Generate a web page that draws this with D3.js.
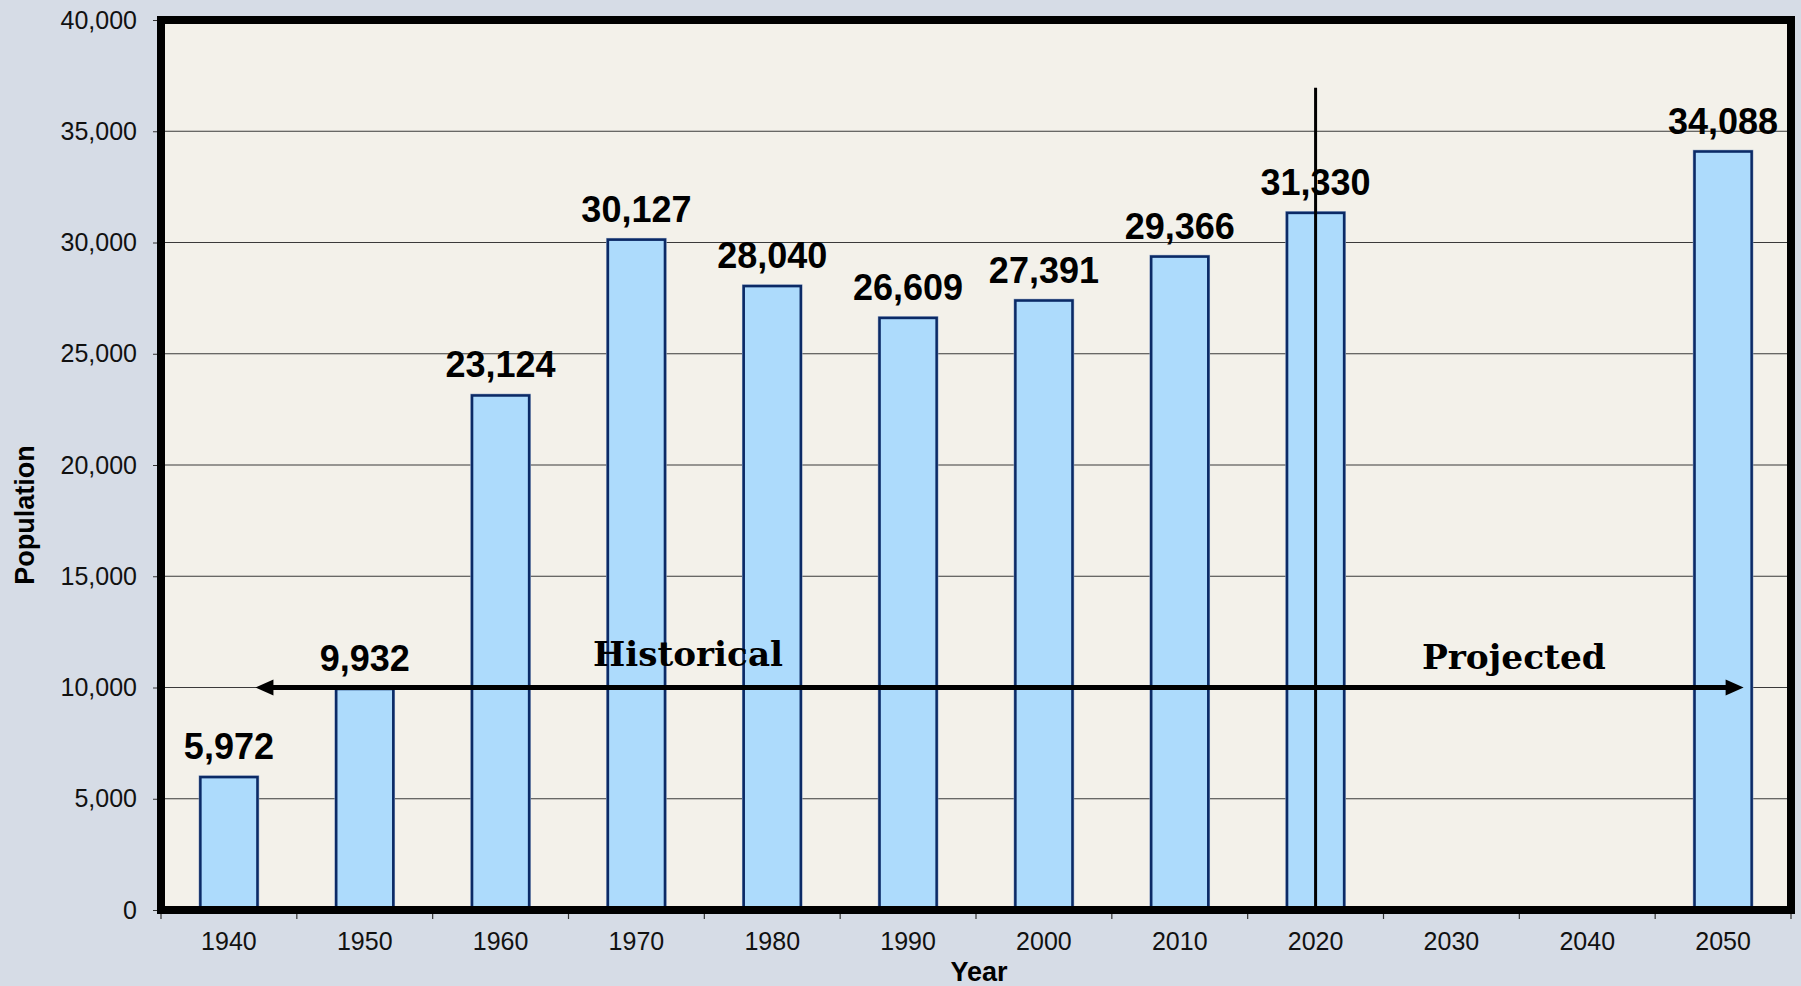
<!DOCTYPE html>
<html>
<head>
<meta charset="utf-8">
<script src="https://cdn.jsdelivr.net/npm/d3@7"></script>
<style>
  html, body { margin: 0; padding: 0; background: #d6dce6; }
  svg { display: block; }
</style>
</head>
<body>
<svg id="chart"></svg>
<script>
"use strict";

// chart data
const years = ["1940", "1950", "1960", "1970", "1980", "1990", "2000", "2010", "2020", "2030", "2040", "2050"];
const population = [5972, 9932, 23124, 30127, 28040, 26609, 27391, 29366, 31330, null, null, 34088];
const yTicks = [0, 5000, 10000, 15000, 20000, 25000, 30000, 35000, 40000];
const periodLabels = ["Historical", "Projected"];
const arrowValue = 10000;
const markerYear = "2020";
const markerTop = 36950;

const WIDTH = 1801;
const HEIGHT = 986;
const margin = { top: 20, right: 10, bottom: 76, left: 161 };
const plotW = 1791 - margin.left;
const plotH = 910 - margin.top;

const svg = d3.select("#chart")
  .attr("width", WIDTH)
  .attr("height", HEIGHT);

svg.append("rect")
  .attr("width", WIDTH)
  .attr("height", HEIGHT)
  .attr("fill", "#d6dce6");

const g = svg.append("g")
  .attr("transform", "translate(" + margin.left + "," + margin.top + ")");

const x = d3.scaleBand()
  .domain(years)
  .range([0, plotW])
  .paddingInner(0.58)
  .paddingOuter(0.29);

const y = d3.scaleLinear()
  .domain([0, 40000])
  .range([plotH, 0]);

const step = x.step();
const bw = x.bandwidth();

// plot background
g.append("rect")
  .attr("width", plotW)
  .attr("height", plotH)
  .attr("fill", "#f3f1ea");

// gridlines
g.selectAll(".grid")
  .data(yTicks.filter(function(d) { return d > 0 && d < 40000; }))
  .enter()
  .append("line")
  .attr("x1", 0)
  .attr("x2", plotW)
  .attr("y1", function(d) { return y(d); })
  .attr("y2", function(d) { return y(d); })
  .attr("stroke", "#3a3a3a")
  .attr("stroke-width", 1.2);

// bars
const barData = years.map(function(yr, i) { return { year: yr, value: population[i] }; })
  .filter(function(d) { return d.value != null; });

const bar = g.selectAll(".bar")
  .data(barData)
  .enter()
  .append("g");

bar.append("rect")
  .attr("x", function(d) { return x(d.year) - 1; })
  .attr("y", function(d) { return y(d.value) - 1; })
  .attr("width", bw + 2)
  .attr("height", function(d) { return plotH - y(d.value) + 1; })
  .attr("fill", "none")
  .attr("stroke", "#8d9fbf")
  .attr("stroke-width", 1.5);

bar.append("rect")
  .attr("x", function(d) { return x(d.year); })
  .attr("y", function(d) { return y(d.value); })
  .attr("width", bw)
  .attr("height", function(d) { return plotH - y(d.value); })
  .attr("fill", "#addbfc")
  .attr("stroke", "#0b2a66")
  .attr("stroke-width", 2.5);

bar.append("text")
  .attr("x", function(d) { return x(d.year) + bw / 2; })
  .attr("y", function(d) { return y(d.value) - 18; })
  .attr("text-anchor", "middle")
  .attr("font-family", "'Liberation Sans', Arial, sans-serif")
  .attr("font-weight", "bold")
  .attr("font-size", 36)
  .attr("fill", "#000")
  .text(function(d) { return d3.format(",")(d.value); });

// historical / projected arrow
const arrowY = y(arrowValue);
const arrowX1 = x(years[0]) + bw - 2;
const arrowX2 = x(years[years.length - 1]) + bw * 0.86;

g.append("line")
  .attr("x1", arrowX1 + 14)
  .attr("x2", arrowX2 - 14)
  .attr("y1", arrowY)
  .attr("y2", arrowY)
  .attr("stroke", "#000")
  .attr("stroke-width", 5);

g.append("path")
  .attr("d", "M" + arrowX1 + "," + arrowY + "L" + (arrowX1 + 18) + "," + (arrowY - 8) + "L" + (arrowX1 + 18) + "," + (arrowY + 8) + "Z")
  .attr("fill", "#000");

g.append("path")
  .attr("d", "M" + arrowX2 + "," + arrowY + "L" + (arrowX2 - 18) + "," + (arrowY - 8) + "L" + (arrowX2 - 18) + "," + (arrowY + 8) + "Z")
  .attr("fill", "#000");

// period labels
const periodX = [x("1970") + bw / 2 + step * 0.38, x("2030") + bw / 2 + step * 0.46];
g.selectAll(".period")
  .data(periodLabels)
  .enter()
  .append("text")
  .attr("x", function(d, i) { return periodX[i]; })
  .attr("y", function(d, i) { return y(arrowValue) - (i === 0 ? 22 : 19); })
  .attr("text-anchor", "middle")
  .attr("font-family", "'DejaVu Serif', serif")
  .attr("font-weight", "bold")
  .attr("font-size", 34)
  .attr("textLength", function(d, i) { return i === 0 ? 190 : 184; })
  .attr("lengthAdjust", "spacingAndGlyphs")
  .text(function(d) { return d; });

// 2020 divider
g.append("line")
  .attr("x1", x(markerYear) + bw / 2)
  .attr("x2", x(markerYear) + bw / 2)
  .attr("y1", y(markerTop))
  .attr("y2", plotH)
  .attr("stroke", "#000")
  .attr("stroke-width", 3);

// frame
g.append("rect")
  .attr("width", plotW)
  .attr("height", plotH)
  .attr("fill", "none")
  .attr("stroke", "#000")
  .attr("stroke-width", 8);

// y axis
const yAxis = d3.axisLeft(y)
  .tickValues(yTicks)
  .tickFormat(d3.format(","))
  .tickSize(4)
  .tickPadding(16);

const yG = g.append("g")
  .attr("transform", "translate(-4,0)")
  .call(yAxis);
yG.select(".domain").remove();
yG.selectAll("line").attr("stroke", "#333");
yG.selectAll("text")
  .attr("font-family", "'Liberation Sans', Arial, sans-serif")
  .attr("font-size", 25)
  .attr("fill", "#111");

// x axis: ticks between categories
g.selectAll(".xtick")
  .data(d3.range(years.length + 1))
  .enter()
  .append("line")
  .attr("x1", function(i) { return i * step; })
  .attr("x2", function(i) { return i * step; })
  .attr("y1", plotH + 4)
  .attr("y2", plotH + 9)
  .attr("stroke", "#333")
  .attr("stroke-width", 1.2);

g.selectAll(".xlabel")
  .data(years)
  .enter()
  .append("text")
  .attr("x", function(d) { return x(d) + bw / 2; })
  .attr("y", plotH + 40)
  .attr("text-anchor", "middle")
  .attr("font-family", "'Liberation Sans', Arial, sans-serif")
  .attr("font-size", 25)
  .attr("fill", "#111")
  .text(function(d) { return d; });

// axis titles
svg.append("text")
  .attr("x", margin.left + plotW / 2 + 3)
  .attr("y", 981)
  .attr("text-anchor", "middle")
  .attr("font-family", "'Liberation Sans', Arial, sans-serif")
  .attr("font-weight", "bold")
  .attr("font-size", 27)
  .text("Year");

svg.append("text")
  .attr("transform", "translate(34,515) rotate(-90)")
  .attr("text-anchor", "middle")
  .attr("font-family", "'Liberation Sans', Arial, sans-serif")
  .attr("font-weight", "bold")
  .attr("font-size", 27)
  .text("Population");
</script>
</body>
</html>
